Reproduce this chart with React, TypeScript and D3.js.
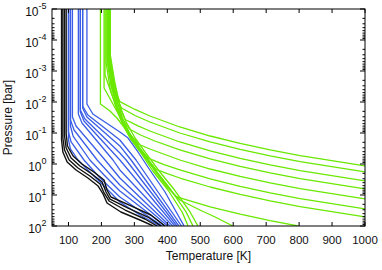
import * as d3 from "d3";

const WIDTH = 382;
const HEIGHT = 270;
const MARGIN = { top: 9, right: 17, bottom: 44, left: 52 };
const FONT = "'Liberation Sans', Arial, Helvetica, sans-serif";

// [temperature K, pressure bar]
type Pt = [number, number];

const xTicks = [100, 200, 300, 400, 500, 600, 700, 800, 900, 1000];
const yTickExponents = [-5, -4, -3, -2, -1, 0, 1, 2];

const blackProfiles: Pt[][] = [
  [[79, 1e-5], [79, 0.168], [83, 0.41], [96, 0.862], [123, 1.56], [159, 2.83], [190, 5.13], [205, 9.28], [217, 18.1], [259, 35.3], [317, 64], [357, 100]],
  [[83, 1e-5], [83, 0.145], [88, 0.353], [102, 0.743], [129, 1.35], [165, 2.44], [196, 4.42], [208, 8.61], [223, 15.6], [272, 30.5], [332, 59.5], [369, 100]],
  [[88, 1e-5], [88, 0.125], [93, 0.305], [108, 0.64], [135, 1.16], [171, 2.1], [202, 3.81], [214, 8.0], [226, 13.5], [281, 26.3], [341, 51.3], [381, 100]],
  [[93, 1e-5], [93, 0.108], [97, 0.262], [114, 0.552], [141, 1.0], [177, 1.81], [208, 3.28], [217, 6.9], [229, 11.6], [290, 22.6], [350, 44.2], [393, 100]],
];

const blueProfiles: Pt[][] = [
  [[100, 1e-5], [100, 0.168], [106, 0.328], [129, 0.743], [171, 2.1], [208, 5.13], [256, 16.8], [317, 44.2], [378, 100]],
  [[100, 1e-5], [100, 0.0928], [108, 0.195], [147, 0.743], [196, 2.83], [256, 11.6], [385, 100]],
  [[106, 1e-5], [106, 0.0595], [114, 0.125], [165, 0.743], [208, 2.26], [256, 7.43], [393, 100]],
  [[106, 1e-5], [106, 0.0381], [117, 0.08], [187, 0.743], [256, 4.76], [401, 100]],
  [[112, 1e-5], [112, 0.0305], [123, 0.0595], [211, 0.743], [256, 2.83], [408, 100]],
  [[130, 1e-5], [130, 0.0244], [141, 0.0476], [235, 0.743], [256, 1.56], [416, 100]],
  [[136, 1e-5], [136, 0.021], [147, 0.041], [256, 0.743], [423, 100]],
  [[136, 1e-5], [136, 0.0181], [150, 0.0353], [256, 0.442], [275, 0.743], [429, 100]],
  [[143, 1e-5], [143, 0.0156], [156, 0.0305], [256, 0.262], [290, 0.743], [435, 100]],
  [[143, 1e-5], [143, 0.0135], [159, 0.0263], [256, 0.168], [305, 0.743], [443, 100]],
  [[156, 1e-5], [156, 0.0116], [174, 0.0244], [256, 0.0928], [281, 0.145], [311, 0.41], [347, 1.56], [393, 8.0], [451, 100]],
];

const greenProfiles: Pt[][] = [
  [[226, 1e-5], [226, 3.28e-4], [238, 2.26e-3], [250, 6.9e-3], [256, 0.00977], [302, 0.0174], [347, 0.0283], [438, 0.064], [530, 0.125], [621, 0.217], [712, 0.351], [803, 0.534], [1000, 1.15]],
  [[223, 1e-5], [223, 3.53e-4], [235, 2.44e-3], [250, 8.61e-3], [261, 0.0156], [302, 0.0272], [347, 0.0442], [438, 0.1], [530, 0.195], [621, 0.339], [712, 0.548], [803, 0.834], [1000, 1.8]],
  [[220, 1e-5], [220, 3.81e-4], [232, 2.63e-3], [250, 0.0116], [259, 0.0181], [272, 0.0367], [311, 0.0588], [347, 0.0862], [438, 0.195], [530, 0.38], [621, 0.662], [712, 1.07], [803, 1.63], [1000, 3.5]],
  [[217, 1e-5], [217, 4.42e-4], [229, 3.05e-3], [247, 0.0135], [262, 0.0328], [285, 0.0743], [317, 0.114], [360, 0.178], [438, 0.353], [530, 0.688], [621, 1.2], [712, 1.93], [803, 2.94], [1000, 6.34]],
  [[214, 1e-5], [214, 5.13e-4], [226, 3.53e-3], [244, 0.0145], [259, 0.0381], [284, 0.1], [311, 0.226], [347, 0.328], [438, 0.743], [530, 1.45], [621, 2.52], [712, 4.07], [803, 6.2], [1000, 13.4]],
  [[211, 1e-5], [211, 1.35e-3], [232, 5.95e-3], [247, 0.0145], [262, 0.041], [287, 0.116], [317, 0.328], [343, 0.655], [390, 1.04], [438, 1.56], [530, 3.04], [621, 5.29], [712, 8.55], [803, 13], [1000, 28]],
  [[208, 1e-5], [208, 3.53e-3], [235, 0.0116], [253, 0.0263], [269, 0.0595], [290, 0.145], [320, 0.381], [347, 0.862], [366, 1.5], [400, 2.06], [438, 2.83], [530, 5.52], [621, 9.6], [712, 15.5], [803, 23.6], [1000, 50.9]],
  [[197, 1e-5], [197, 0.0116], [226, 0.0195], [247, 0.0328], [266, 0.0595], [290, 0.156], [320, 0.41], [353, 1.16], [387, 3.28], [426, 11.2], [530, 24], [621, 41.7], [712, 67.4], [797, 100]],
  [[218, 1e-5], [218, 3.81e-4], [231, 2.83e-3], [247, 0.0135], [264, 0.0442], [290, 0.145], [323, 0.442], [360, 1.56], [402, 5.95], [438, 14.5], [499, 30.5], [545, 51.3], [599, 100]],
  [[221, 1e-5], [221, 3.53e-4], [234, 2.63e-3], [247, 0.0135], [262, 0.0442], [287, 0.145], [320, 0.442], [356, 1.68], [402, 6.9], [445, 35.3], [463, 100]],
  [[224, 1e-5], [224, 3.28e-4], [237, 2.63e-3], [252, 0.0135], [268, 0.0442], [294, 0.145], [328, 0.442], [366, 1.68], [411, 6.9], [457, 35.3], [478, 100]],
  [[227, 1e-5], [227, 3.05e-4], [241, 2.44e-3], [256, 0.0135], [275, 0.0442], [302, 0.145], [335, 0.442], [375, 1.68], [422, 6.9], [469, 35.3], [493, 100]],
];

const series = [
  { name: "blue", color: "#3a5de6", width: 1.3, profiles: blueProfiles },
  { name: "black", color: "#111111", width: 1.4, profiles: blackProfiles },
  { name: "green", color: "#69e800", width: 1.3, profiles: greenProfiles },
];

export default function App() {
  const x0 = MARGIN.left;
  const x1 = WIDTH - MARGIN.right;
  const y0 = MARGIN.top;
  const y1 = HEIGHT - MARGIN.bottom;

  const xScale = d3.scaleLinear().domain([50, 1000]).range([x0, x1]);
  const yScale = d3.scaleLog().domain([1e-5, 100]).range([y0, y1]);

  const line = d3
    .line<Pt>()
    .x((d) => xScale(d[0]))
    .y((d) => yScale(d[1]));

  // minor log ticks (2..9 x 10^n)
  const minorTicks = yScale
    .ticks()
    .filter((v) => Math.abs(Math.log10(v) - Math.round(Math.log10(v))) > 1e-6);

  return (
    <svg
      width={WIDTH}
      height={HEIGHT}
      style={{ position: "absolute", left: 0, top: 0, background: "#fff" }}
      fontFamily={FONT}
    >
      <defs>
        <clipPath id="plot-clip">
          <rect x={x0} y={y0} width={x1 - x0} height={y1 - y0} />
        </clipPath>
      </defs>

      <g clipPath="url(#plot-clip)">
        {series.map((s) => (
          <g key={s.name}>
            {s.profiles.map((p, i) => (
              <path
                key={i}
                d={line(p) || ""}
                fill="none"
                stroke={s.color}
                strokeWidth={s.width}
                strokeLinejoin="round"
              />
            ))}
          </g>
        ))}
      </g>

      <rect x={x0} y={y0} width={x1 - x0} height={y1 - y0} fill="none" stroke="#000" strokeWidth={1} />

      {xTicks.map((t) => (
        <g key={t}>
          <line x1={xScale(t)} x2={xScale(t)} y1={y1} y2={y1 - 4} stroke="#000" />
          <line x1={xScale(t)} x2={xScale(t)} y1={y0} y2={y0 + 4} stroke="#000" />
          <text x={xScale(t)} y={y1 + 18} textAnchor="middle" fontSize={11.5} fill="#111">
            {t}
          </text>
        </g>
      ))}

      {yTickExponents.map((e) => {
        const y = yScale(Math.pow(10, e));
        return (
          <g key={e}>
            <line x1={x0} x2={x0 + 5} y1={y} y2={y} stroke="#000" />
            <line x1={x1} x2={x1 - 5} y1={y} y2={y} stroke="#000" />
            <text x={46.5} y={y + 7} textAnchor="end" fontSize={12} fill="#111">
              10
              <tspan fontSize={9} dy={-7.5}>
                {e < 0 ? `-${-e}` : `${e}`}
              </tspan>
            </text>
          </g>
        );
      })}
      {minorTicks.map((v, i) => (
        <g key={i}>
          <line x1={x0} x2={x0 + 2.5} y1={yScale(v)} y2={yScale(v)} stroke="#000" />
          <line x1={x1} x2={x1 - 2.5} y1={yScale(v)} y2={yScale(v)} stroke="#000" />
        </g>
      ))}

      <text x={(x0 + x1) / 2} y={260} textAnchor="middle" fontSize={12} fill="#111">
        Temperature [K]
      </text>
      <text
        transform={`translate(12,${(y0 + y1) / 2}) rotate(-90)`}
        textAnchor="middle"
        fontSize={12}
        fill="#111"
      >
        Pressure [bar]
      </text>
    </svg>
  );
}
